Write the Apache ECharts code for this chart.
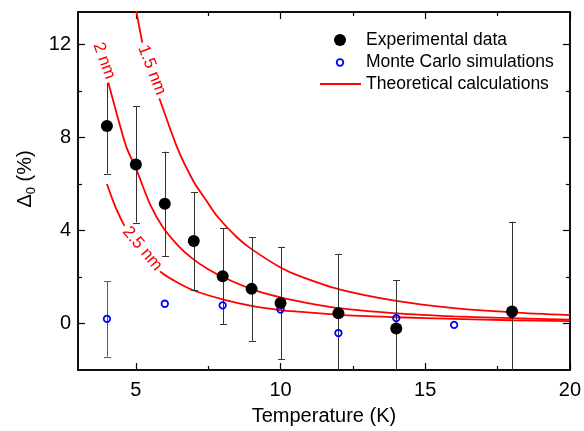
<!DOCTYPE html>
<html><head><meta charset="utf-8">
<script src="https://cdn.jsdelivr.net/npm/echarts@6/dist/echarts.min.js"></script>
<style>html,body{margin:0;padding:0;background:#fff}#c{width:584px;height:431px}</style>
</head><body><div id="c"></div>
<script>
// ---- data ----
const expT   = [4, 5, 6, 7, 8, 9, 10, 12, 14, 18];
const expVal = [8.5, 6.84, 5.15, 3.55, 2.03, 1.49, 0.88, 0.44, -0.21, 0.52];
const expErr = [2.05, 2.5, 2.24, 2.1, 2.07, 2.23, 2.42, 2.55, 2.08, 3.86];

const mcT   = [4, 6, 8, 10, 12, 14, 16, 18];
const mcVal = [0.2, 0.85, 0.78, 0.6, -0.41, 0.23, -0.06, 0.41];
const mcErr = [1.62, 0, 0, 0, 0, 0, 0, 0];

const theoT15 = [4.95, 5.02, 5.4, 5.82, 6.45, 7.0, 7.43, 7.83, 8.5, 9, 10, 10.64, 12, 14, 16, 18, 20];
const theoV15 = [14.0, 13.4, 11.1, 9.66, 7.5, 6.1, 5.3, 4.58, 3.7, 3.2, 2.41, 2.05, 1.48, 0.97, 0.66, 0.48, 0.36];
const theoT20 = [4.04, 4.3, 4.67, 5, 5.5, 5.94, 6.5, 6.97, 7.5, 8, 9, 10, 10.6, 12, 14, 16, 18, 20];
const theoV20 = [10.4, 9.2, 7.6, 6.68, 5.1, 4.13, 3.3, 2.78, 2.33, 2.0, 1.48, 1.12, 0.96, 0.66, 0.44, 0.31, 0.23, 0.17];
const theoT25 = [4, 4.3, 4.67, 5, 5.5, 5.94, 6.5, 7, 8, 9, 10, 10.6, 12, 14, 16, 18, 20];
const theoV25 = [6.0, 5.0, 4.05, 3.4, 2.65, 2.14, 1.72, 1.42, 1.04, 0.76, 0.58, 0.51, 0.37, 0.27, 0.2, 0.14, 0.1];

const xMajor = [5, 10, 15, 20];
const xMinor = [7.5, 12.5, 17.5];
const yMajor = [0, 4, 8, 12];
const yMinor = [2, 6, 10];

const curveLabels = [
  {text: '1.5 nm', T: 5.55, v: 10.9, angle: -69},
  {text: '2 nm',   T: 3.9,  v: 11.3, angle: -70},
  {text: '2.5 nm', T: 5.22, v: 3.22, angle: -50}
];
const legendNames = ['Experimental data', 'Monte Carlo simulations', 'Theoretical calculations'];

// ---- chart ----
const X_MIN = 3, X_MAX = 20, Y_MIN = -2, Y_MAX = 13.4;
const FONT = 'Arial, "Liberation Sans", sans-serif';
const chart = echarts.init(document.getElementById('c'), null, {renderer: 'canvas'});

function zip(a, b) { return a.map((t, i) => [t, b[i]]); }

function errRender(color) {
  return function (params, api) {
    const x = api.value(0), lo = api.value(1), hi = api.value(2);
    const cs = params.coordSys;
    const p1 = api.coord([x, hi]), p2 = api.coord([x, lo]);
    const px = Math.round(p1[0]) + 0.5;
    const top = Math.max(p1[1], cs.y), bot = Math.min(p2[1], cs.y + cs.height);
    const w = 3.5;
    const st = {stroke: color, lineWidth: 1};
    const ch = [{type: 'line', shape: {x1: px, y1: top, x2: px, y2: bot}, style: st}];
    if (p1[1] >= cs.y) { const y = Math.round(p1[1]) + 0.5; ch.push({type: 'line', shape: {x1: px - w, y1: y, x2: px + w, y2: y}, style: st}); }
    if (p2[1] <= cs.y + cs.height) { const y = Math.round(p2[1]) + 0.5; ch.push({type: 'line', shape: {x1: px - w, y1: y, x2: px + w, y2: y}, style: st}); }
    return {type: 'group', children: ch};
  };
}

function xAx(pos, vals, len, labels, extra) {
  return Object.assign({
    type: 'value', position: pos, min: X_MIN, max: X_MAX, gridIndex: 0,
    axisLine: {show: true, onZero: false, lineStyle: {color: '#000', width: 1.5}},
    axisTick: {show: true, inside: true, length: len, customValues: vals, lineStyle: {color: '#000', width: 1.2}},
    axisLabel: labels ? {show: true, customValues: vals, fontSize: 20, color: '#000', fontFamily: FONT, margin: 10} : {show: false},
    splitLine: {show: false}
  }, extra || {});
}
function yAx(pos, vals, len, labels, extra) {
  return Object.assign({
    type: 'value', position: pos, min: Y_MIN, max: Y_MAX, gridIndex: 0,
    axisLine: {show: true, onZero: false, lineStyle: {color: '#000', width: 1.5}},
    axisTick: {show: true, inside: true, length: len, customValues: vals, lineStyle: {color: '#000', width: 1.2}},
    axisLabel: labels ? {show: true, customValues: vals, fontSize: 20, color: '#000', fontFamily: FONT, margin: 7} : {show: false},
    splitLine: {show: false}
  }, extra || {});
}

const option = {
  animation: false,
  backgroundColor: '#fff',
  grid: {left: 78, right: 12, top: 12, bottom: 57, containLabel: false},
  xAxis: [
    xAx('bottom', xMajor, 7, true, {
      name: 'Temperature (K)', nameLocation: 'middle', nameGap: 36,
      nameTextStyle: {fontSize: 20, color: '#000', fontFamily: FONT}
    }),
    xAx('bottom', xMinor, 4, false),
    xAx('top', xMajor, 7, false),
    xAx('top', xMinor, 4, false)
  ],
  yAxis: [
    yAx('left', yMajor, 7, true, {
      name: '{a|\u0394}{b|0}{a| (%)}', nameLocation: 'middle', nameGap: 40,
      nameTextStyle: {
        color: '#000', fontFamily: FONT, padding: [0, 0, 0, 24],
        rich: {
          a: {fontSize: 20, fontFamily: FONT, color: '#000', lineHeight: 24},
          b: {fontSize: 13, fontFamily: FONT, color: '#000', lineHeight: 14, verticalAlign: 'bottom'}
        }
      }
    }),
    yAx('left', yMinor, 4, false),
    yAx('right', yMajor, 7, false),
    yAx('right', yMinor, 4, false)
  ],
  series: [
    {name: legendNames[2], type: 'line', data: zip(theoT15, theoV15), smooth: 0.3, showSymbol: false, symbol: 'none', clip: true,
     lineStyle: {color: '#ff0000', width: 1.8}, z: 2},
    {name: legendNames[2], type: 'line', data: zip(theoT20, theoV20), smooth: 0.3, showSymbol: false, symbol: 'none', clip: true,
     lineStyle: {color: '#ff0000', width: 1.8}, z: 2},
    {name: legendNames[2], type: 'line', data: zip(theoT25, theoV25), smooth: 0.3, showSymbol: false, symbol: 'none', clip: true,
     lineStyle: {color: '#ff0000', width: 1.8}, z: 2},
    {name: 'expErr', type: 'custom', renderItem: errRender('#333'), z: 3,
     data: expT.map((t, i) => [t, expVal[i] - expErr[i], expVal[i] + expErr[i]])},
    {name: 'mcErr', type: 'custom', renderItem: errRender('#3a4cff'), z: 3,
     data: mcT.map((t, i) => [t, mcVal[i] - mcErr[i], mcVal[i] + mcErr[i]]).filter((d, i) => mcErr[i] > 0)},
    {name: legendNames[1], type: 'scatter', data: zip(mcT, mcVal), symbol: 'circle', symbolSize: 6.5, z: 4,
     itemStyle: {color: 'rgba(255,255,255,0)', borderColor: '#0000ff', borderWidth: 1.8, opacity: 1}},
    {name: legendNames[0], type: 'scatter', data: zip(expT, expVal), symbol: 'circle', symbolSize: 12, z: 5,
     itemStyle: {color: '#000', opacity: 1}}
  ]
};
chart.setOption(option);

// annotations: curve labels anchored to data coordinates, and the legend box
const g = [];
curveLabels.forEach(l => {
  const p = chart.convertToPixel({xAxisIndex: 0, yAxisIndex: 0}, [l.T, l.v]);
  g.push({type: 'text', x: p[0], y: p[1], rotation: l.angle * Math.PI / 180, z: 100,
    style: {text: l.text, fill: '#ff0000', font: '17px ' + FONT, align: 'center', verticalAlign: 'middle',
      backgroundColor: '#fff', padding: [0, 3]}});
});
const lx = 366, rows = [40, 62, 84];
g.push({type: 'circle', shape: {cx: 340, cy: rows[0], r: 6}, style: {fill: '#000'}, z: 100});
g.push({type: 'circle', shape: {cx: 340, cy: rows[1] + 0.5, r: 3.3}, style: {fill: 'none', stroke: '#0000ff', lineWidth: 1.8}, z: 100});
g.push({type: 'line', shape: {x1: 320, y1: rows[2], x2: 361, y2: rows[2]}, style: {stroke: '#ff0000', lineWidth: 1.8}, z: 100});
legendNames.forEach((n, i) => {
  g.push({type: 'text', x: lx, y: rows[i], z: 100,
    style: {text: n, fill: '#000', font: '17.5px ' + FONT, align: 'left', verticalAlign: 'middle'}});
});
chart.setOption({graphic: g});
</script>
</body></html>
